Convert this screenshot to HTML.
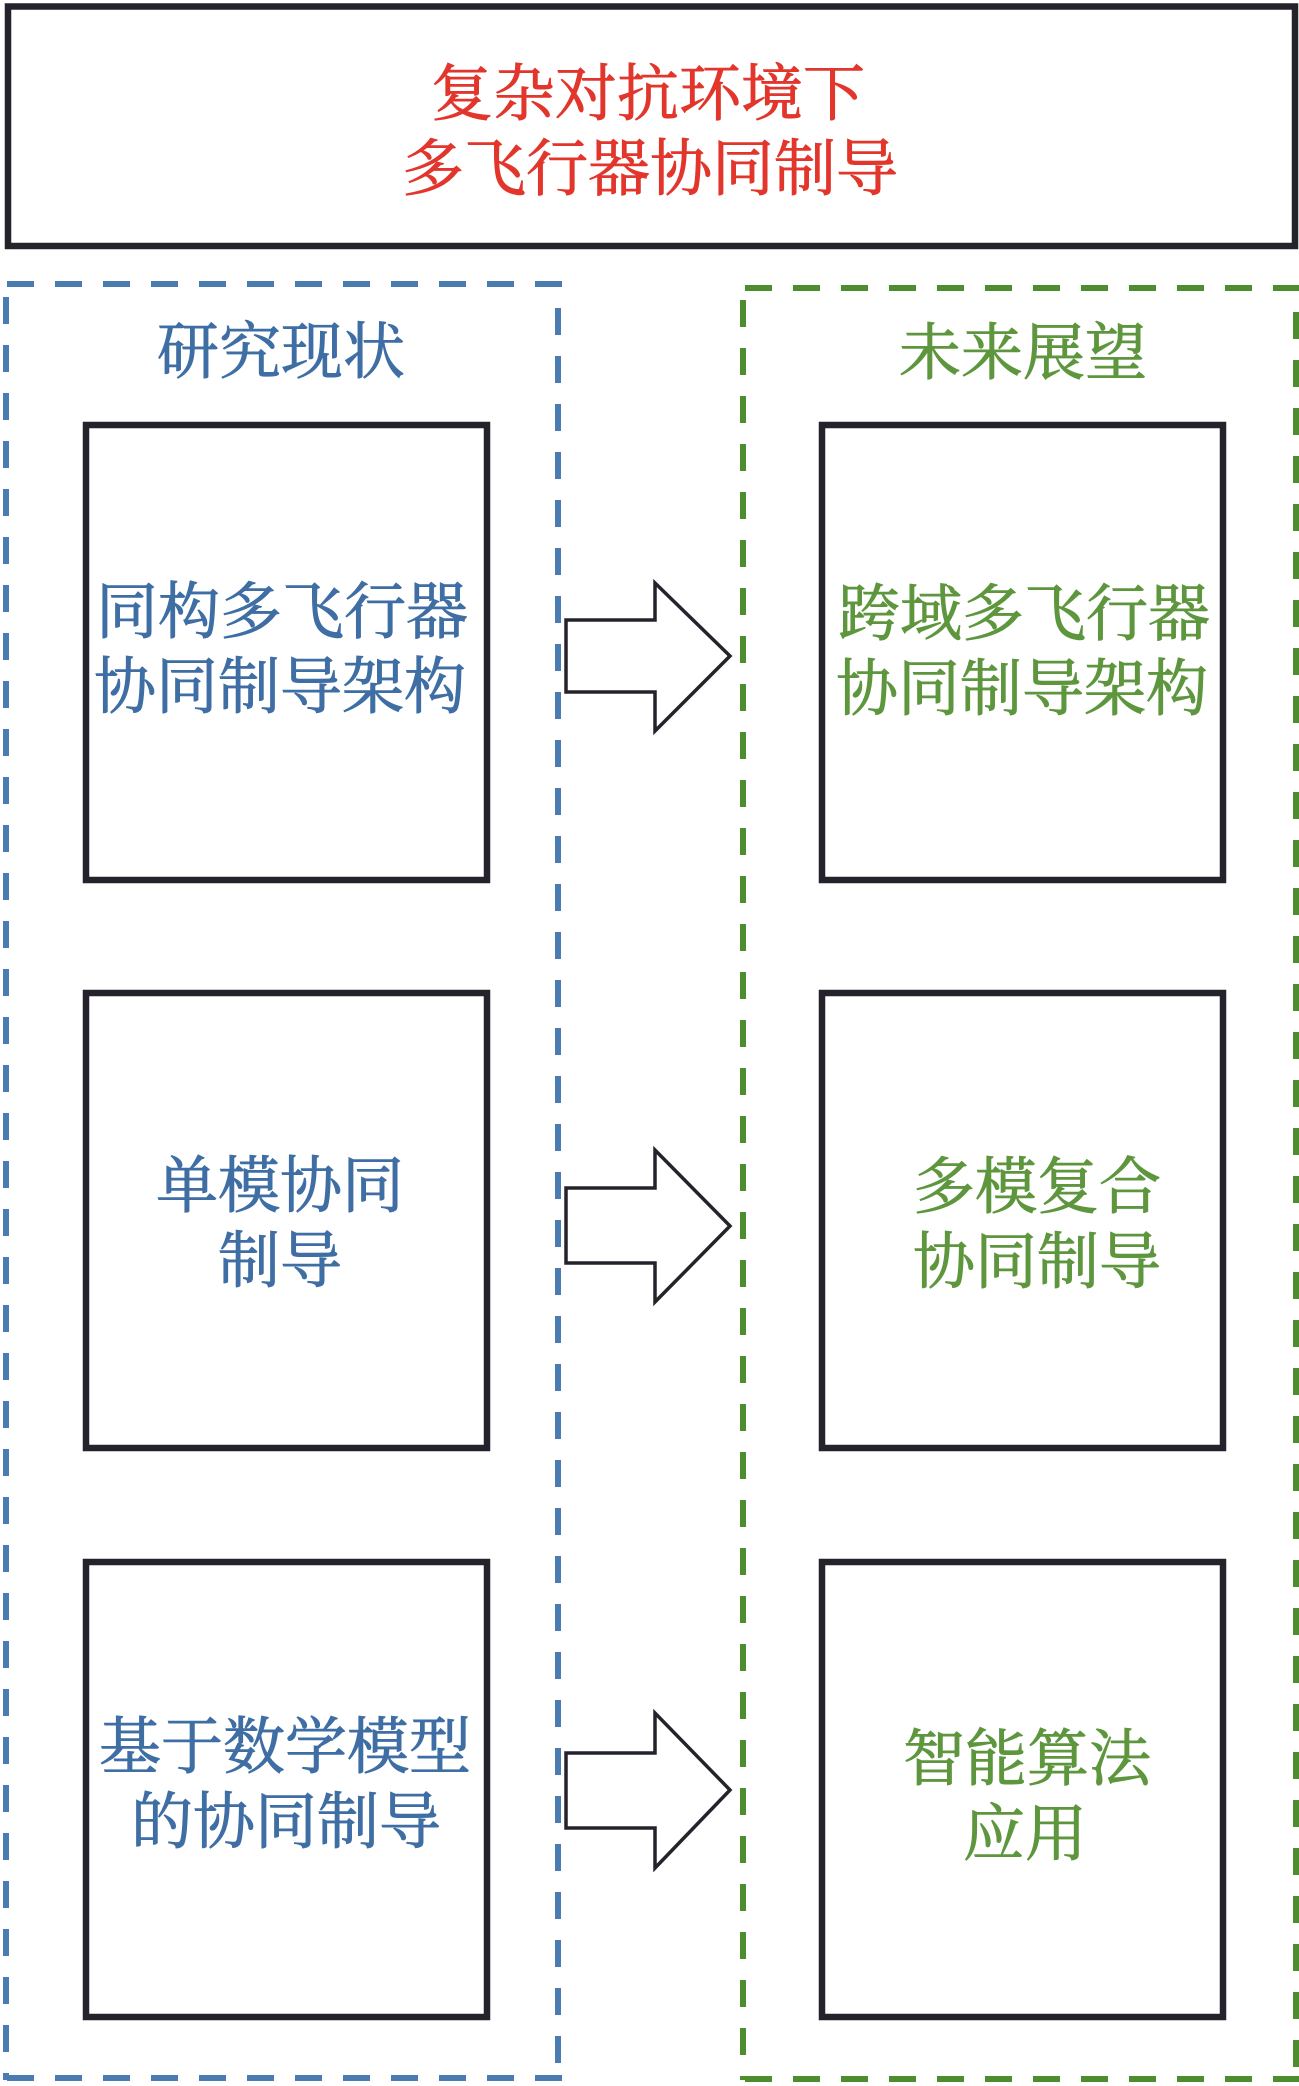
<!DOCTYPE html>
<html>
<head>
<meta charset="utf-8">
<style>
  html, body { margin: 0; padding: 0; background: #ffffff; }
  body { width: 1299px; height: 2086px; overflow: hidden; }
  svg { display: block; }
  text { font-family: "Liberation Serif", "Noto Serif CJK SC", "Noto Sans CJK SC", serif; font-size: 62px; text-anchor: middle; stroke-width: 0.9px; }
  .r { fill: #e2362d; stroke: #e2362d; }
  .b { fill: #3e6ea4; stroke: #3e6ea4; }
  .g { fill: #5e963e; stroke: #5e963e; }
</style>
</head>
<body>
<svg width="1299" height="2086" viewBox="0 0 1299 2086" xmlns="http://www.w3.org/2000/svg">
  <rect x="0" y="0" width="1299" height="2086" fill="#ffffff"/>

  <!-- Title box -->
  <rect x="8" y="6.5" width="1287" height="239.5" fill="none" stroke="#26222b" stroke-width="6.5"/>
  <text class="r" x="648" y="115">复杂对抗环境下</text>
  <text class="r" x="650" y="190">多飞行器协同制导</text>

  <!-- Blue dashed container -->
  <g stroke="#4a7cb1" stroke-width="6" fill="none" stroke-dasharray="27 21">
    <line x1="7" y1="284" x2="562" y2="284"/>
    <line x1="6" y1="297" x2="6" y2="2080"/>
    <line x1="558" y1="308" x2="558" y2="2080"/>
    <line x1="7" y1="2078" x2="566" y2="2078"/>
  </g>

  <!-- Green dashed container -->
  <g stroke="#4e8c30" stroke-width="6" fill="none" stroke-dasharray="27 21">
    <line x1="745" y1="288" x2="1299" y2="288"/>
    <line x1="743" y1="300" x2="743" y2="2080"/>
    <line x1="1296" y1="312" x2="1296" y2="2080"/>
    <line x1="745" y1="2079" x2="1299" y2="2079"/>
  </g>

  <text class="b" x="281" y="373">研究现状</text>
  <text class="g" x="1023" y="374">未来展望</text>

  <!-- Boxes -->
  <g fill="none" stroke="#26222b" stroke-width="6.5">
    <rect x="86" y="425" width="401" height="455"/>
    <rect x="86" y="993" width="401" height="455"/>
    <rect x="86" y="1562" width="401" height="455"/>
    <rect x="822" y="425" width="401" height="455"/>
    <rect x="822" y="993" width="401" height="455"/>
    <rect x="822" y="1562" width="401" height="455"/>
  </g>

  <!-- Left box texts -->
  <text class="b" x="282" y="633">同构多飞行器</text>
  <text class="b" x="280" y="708">协同制导架构</text>
  <text class="b" x="280" y="1207">单模协同</text>
  <text class="b" x="280" y="1282">制导</text>
  <text class="b" x="285" y="1768">基于数学模型</text>
  <text class="b" x="286" y="1843">的协同制导</text>

  <!-- Right box texts -->
  <text class="g" x="1024" y="635">跨域多飞行器</text>
  <text class="g" x="1022" y="710">协同制导架构</text>
  <text class="g" x="1037" y="1208">多模复合</text>
  <text class="g" x="1037" y="1283">协同制导</text>
  <text class="g" x="1027" y="1780">智能算法</text>
  <text class="g" x="1025" y="1855">应用</text>

  <!-- Arrows -->
  <g fill="#ffffff" stroke="#26222b" stroke-width="3.5" stroke-linejoin="miter">
    <polygon points="566,620 655,620 655,583 730,656 655,731 655,692 566,692"/>
    <polygon points="566,1188 655,1188 655,1150 730,1226 655,1302 655,1263 566,1263"/>
    <polygon points="566,1753 655,1753 655,1713 730,1790 655,1868 655,1828 566,1828"/>
  </g>
</svg>
</body>
</html>
